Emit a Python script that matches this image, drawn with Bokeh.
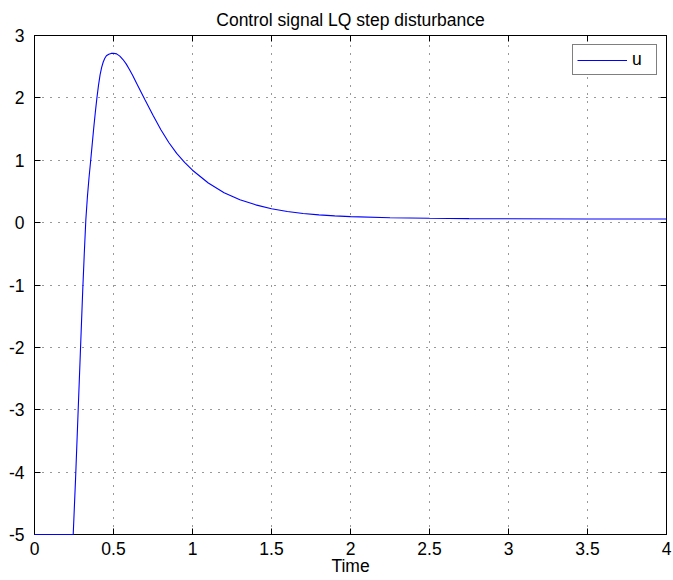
from bokeh.plotting import figure
from bokeh.models import Range1d, LinearAxis, FixedTicker, Legend, ColumnDataSource
from bokeh.embed import file_html
from bokeh.resources import INLINE

# ---- data ----
time = [0.0, 0.245, 0.26, 0.275, 0.29, 0.305, 0.315, 0.325, 0.335, 0.345, 0.355,
        0.365, 0.375, 0.385, 0.395, 0.405, 0.415, 0.425, 0.435, 0.445, 0.455,
        0.47, 0.485, 0.50, 0.52, 0.54, 0.56, 0.58, 0.60, 0.62, 0.65, 0.70, 0.75,
        0.80, 0.85, 0.90, 0.95, 1.0, 1.1, 1.2, 1.3, 1.4, 1.5, 1.6, 1.7, 1.8, 1.9,
        2.0, 2.25, 2.5, 2.75, 3.0, 3.5, 4.0]
u = [-5.0, -5.0, -4.1, -3.1, -2.1, -1.1, -0.5, 0.05, 0.42, 0.72, 0.98,
     1.25, 1.52, 1.77, 2.0, 2.2, 2.37, 2.49, 2.575, 2.635, 2.675,
     2.70, 2.713, 2.716, 2.705, 2.67, 2.615, 2.545, 2.46, 2.365, 2.215, 1.965, 1.72,
     1.49, 1.285, 1.11, 0.965, 0.84, 0.635, 0.48, 0.367, 0.285, 0.222, 0.178, 0.147, 0.124, 0.108,
     0.096, 0.078, 0.069, 0.064, 0.061, 0.059, 0.058]

x_ticks = [0, 0.5, 1, 1.5, 2, 2.5, 3, 3.5, 4]
x_tick_labels = ["0", "0.5", "1", "1.5", "2", "2.5", "3", "3.5", "4"]
y_ticks = [-5, -4, -3, -2, -1, 0, 1, 2, 3]
y_tick_labels = ["-5", "-4", "-3", "-2", "-1", "0", "1", "2", "3"]

title_text = "Control signal LQ step disturbance"
x_label = "Time"
series_name = "u"

FONT = "Liberation Sans"
FS = "17.5px"

p = figure(width=673, height=580, x_range=Range1d(0, 4), y_range=Range1d(-5, 3),
           output_backend="svg", toolbar_location=None,
           min_border_left=34, min_border_right=7, min_border_top=35, min_border_bottom=46,
           title=title_text)

p.title.text_font = FONT
p.title.text_font_size = FS
p.title.text_font_style = "normal"
p.title.align = "center"
p.title.text_color = "black"
p.title.standoff = 12

p.outline_line_color = "black"
p.background_fill_color = "white"
p.border_fill_color = "white"

src = ColumnDataSource(dict(t=time, u=u))
r = p.line("t", "u", source=src, line_color="#0000ff", line_width=1.1)
r.level = "overlay"

# bottom / left axes
for ax, ticks, labels in ((p.xaxis[0], x_ticks, x_tick_labels), (p.yaxis[0], y_ticks, y_tick_labels)):
    ax.ticker = FixedTicker(ticks=ticks)
    ax.major_label_overrides = {t: s for t, s in zip(ticks, labels)}
    ax.major_tick_in = 6
    ax.major_tick_out = 0
    ax.minor_tick_line_color = None
    ax.axis_line_color = "black"
    ax.major_tick_line_color = "black"
    ax.major_label_text_font = FONT
    ax.major_label_text_font_size = FS
    ax.major_label_text_color = "black"

p.xaxis[0].major_label_standoff = 7
p.yaxis[0].major_label_standoff = 10
p.xaxis[0].axis_label = x_label
p.xaxis[0].axis_label_text_font = FONT
p.xaxis[0].axis_label_text_font_size = FS
p.xaxis[0].axis_label_text_font_style = "normal"
p.xaxis[0].axis_label_text_color = "black"
p.xaxis[0].axis_label_standoff = -2

# top / right axes: ticks only
for ticks, loc in ((x_ticks, "above"), (y_ticks, "right")):
    ax = LinearAxis(ticker=FixedTicker(ticks=ticks), major_tick_in=6, major_tick_out=0,
                    minor_tick_line_color=None, axis_line_color="black",
                    major_label_text_font_size="0px", major_label_standoff=0)
    ax.major_label_overrides = {t: "" for t in ticks}
    p.add_layout(ax, loc)

# dotted grid
for g, ticks in ((p.xgrid[0], x_ticks), (p.ygrid[0], y_ticks)):
    g.ticker = FixedTicker(ticks=ticks)
    g.grid_line_color = "black"
    g.grid_line_alpha = 0.8
    g.grid_line_dash = "1 7"
    g.grid_line_width = 1

legend = Legend(items=[(series_name, [r])], location="top_right")
legend.margin = 9
legend.padding = 4
legend.glyph_width = 50
legend.glyph_height = 16
legend.label_standoff = 5
legend.label_text_font = FONT
legend.label_text_font_size = FS
legend.label_text_color = "black"
legend.label_height = 16
legend.border_line_color = "black"
legend.border_line_width = 1
legend.background_fill_alpha = 1
legend.spacing = 0
p.add_layout(legend)

open("out.html", "w").write(file_html(p, INLINE))
